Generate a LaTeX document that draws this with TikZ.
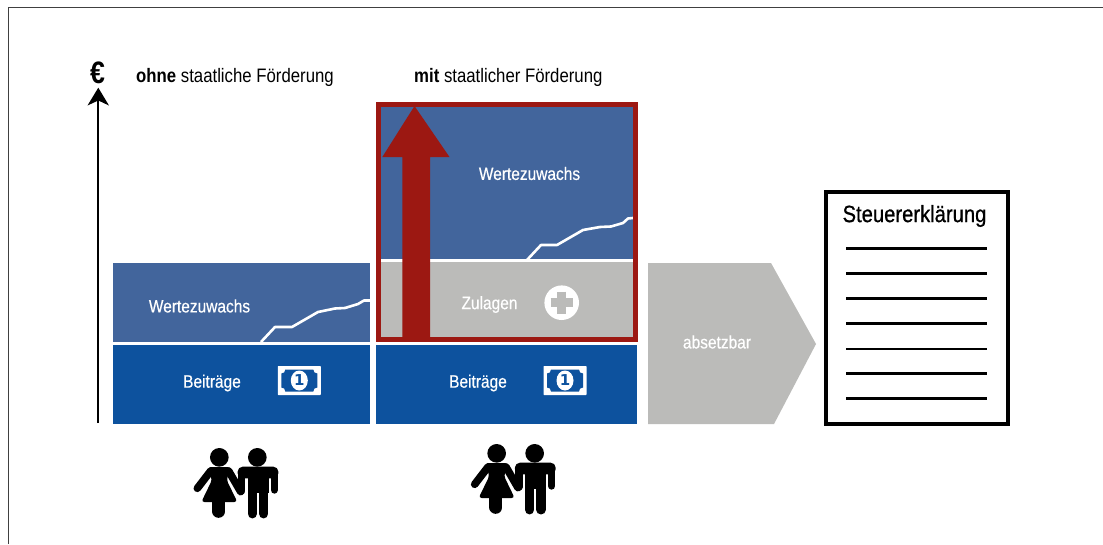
\documentclass[tikz,border=0pt]{standalone}
\usepackage{fontspec}
\setmainfont[FakeStretch=0.86]{Liberation Sans}
\newfontfamily\medcn[FakeStretch=0.86,FakeBold=0.4]{Liberation Sans}
\newfontfamily\darkcn[FakeStretch=0.86,FakeBold=0.7]{Liberation Sans}
\newfontfamily\digitfont{DejaVu Sans}
\definecolor{wert}{HTML}{42659C}
\definecolor{beit}{HTML}{0D529E}
\definecolor{zul}{HTML}{BBBBB9}
\definecolor{dred}{HTML}{9C1812}
\tikzset{
  lbl/.style={text=white,font=\medcn\fontsize{18}{20}\selectfont,inner sep=0pt,anchor=center},
  head/.style={text=black,font=\fontsize{19.5}{22}\selectfont,inner sep=0pt,anchor=west},
  curve/.style={draw=white,line width=2.6pt,line join=round},
  docline/.style={draw=black,line width=2.1pt},
  limb/.style={draw=black,line cap=round,line join=round},
  bill/.pic={
    \fill[white,rounded corners=0.6pt] (-21.5,-14.5) rectangle (21.5,14.5);
    \fill[beit] (-14,-11) -- (14,-11) .. controls (14,-8.5) and (15.5,-7) .. (18,-7) -- (18,7) .. controls (15.5,7) and (14,8.5) .. (14,11) -- (-14,11) .. controls (-14,8.5) and (-15.5,7) .. (-18,7) -- (-18,-7) .. controls (-15.5,-7) and (-14,-8.5) .. (-14,-11) -- cycle;
    \fill[white] (0,0) ellipse[x radius=8.5,y radius=10];
    \node[text=beit,inner sep=0pt,font=\digitfont\bfseries\fontsize{15}{15}\selectfont] at (0,0) {1};
  },
  couple/.pic={
    \begin{scope}[x=0.3333pt,y=-0.3333pt]
    % woman
    \fill[black] (118,67) circle[radius=28];
    \fill[black,rounded corners=3pt] (84,96) -- (152,96) -- (140,135) -- (172,201) -- (64,201) -- (96,135) -- cycle;
    \draw[limb,line width=7.6pt] (92,108) -- (52,160);
    \draw[limb,line width=7.6pt] (146,108) -- (182,170);
    \draw[limb,line width=13pt] (116,190) -- (116,229);
    % man
    \fill[black] (232,67) circle[radius=28];
    \fill[black,rounded corners=5pt] (173,95) rectangle (295,130);
    \fill[black] (203,100) rectangle (266,175);
    \draw[limb,line width=7.4pt] (185,110) -- (185,168);
    \draw[limb,line width=7.4pt] (283,110) -- (283,165);
    \draw[limb,line width=9.6pt] (217,165) -- (217,236);
    \draw[limb,line width=9.6pt] (251,165) -- (251,236);
    \end{scope}
  }
}
\begin{document}
\begin{tikzpicture}[x=1pt,y=-1pt]
\useasboundingbox (0,0) rectangle (1103,544);
\fill[white] (0,0) rectangle (1103,544);
% frame
\draw[black!75,line width=1.1pt] (8.5,544) -- (8.5,7.5) -- (1103,7.5);
% axis
\coordinate (axb) at (98,423);
\coordinate (axt) at (98.3,87.7);
\draw[black,line width=1.9pt] (axb) -- (98,100);
\fill[black] (axt) -- (109,105.5) -- (98.3,100.5) -- (87.5,105.5) -- cycle;
\node[inner sep=0pt,font=\bfseries\fontsize{31}{31}\selectfont] (euro) at (97.5,72.5) {€};
\node[head] (h1) at (136,77.5) {{\bfseries ohne} staatliche Förderung};
\node[head] (h2) at (414,77.5) {{\bfseries mit} staatlicher Förderung};
% left column
\fill[wert] (112.7,262.5) rectangle (370,342);
\fill[beit] (112.7,345) rectangle (370,424);
\draw[curve] (261,342) -- (275,327) -- (292,327) -- (318,312) -- (335,308.5) -- (345,308) -- (358,304) -- (364,300.5) -- (370,300.5);
\draw[white,line width=2.6pt] (112.7,343) -- (370,343);
\node[lbl] (w1) at (199.5,306) {Wertezuwachs};
\node[lbl] (b1) at (212,383) {Beiträge};
\pic at (299.3,380.5) {bill};
% right column
\fill[wert] (380,107) rectangle (633,260);
\fill[zul] (380,260) rectangle (633,337);
\draw[curve] (527,260) -- (541,245) -- (557,245) -- (583,230) -- (600,227) -- (611,226.5) -- (623,223) -- (628,218.5) -- (633,218);
\draw[white,line width=2.8pt] (380,260.7) -- (633,260.7);
\draw[dred,line width=5pt] (378.5,104.3) rectangle (635.2,339.2);
\fill[dred] (414.5,106) -- (449.5,157) -- (430,157) -- (430,338) -- (402.3,338) -- (402.3,157) -- (382.3,157) -- cycle;
\fill[beit] (376,345) rectangle (637,424);
\node[lbl] (w2) at (529.5,173.5) {Wertezuwachs};
\node[lbl] (z) at (489.5,304.5) {Zulagen};
\fill[white] (561.7,302.7) circle[radius=17.3];
\draw[zul,line width=9pt,rounded corners=1pt] (561.7,291.7) -- (561.7,313.7);
\draw[zul,line width=9pt,rounded corners=1pt] (550.7,302.7) -- (572.7,302.7);
\node[lbl] (b2) at (478,383) {Beiträge};
\pic at (565,380.5) {bill};
% absetzbar arrow
\fill[zul] (648,263) -- (771,263) -- (816,344) -- (774,424) -- (648,424) -- cycle;
\node[lbl] (abs) at (717,342) {absetzbar};
% document
\draw[black,line width=4pt] (826,192) rectangle (1008,424);
\node[inner sep=0pt,font=\darkcn\fontsize{23.5}{26}\selectfont] (doc) at (914.5,216) {Steuererklärung};
\foreach \y in {248.5,273.5,298.5,323.5,349,373.5,398.5} \draw[docline] (846,\y) -- (987,\y);
% couples
\pic at (180,435) {couple};
\pic at (457.33,431) {couple};
\end{tikzpicture}
\end{document}
